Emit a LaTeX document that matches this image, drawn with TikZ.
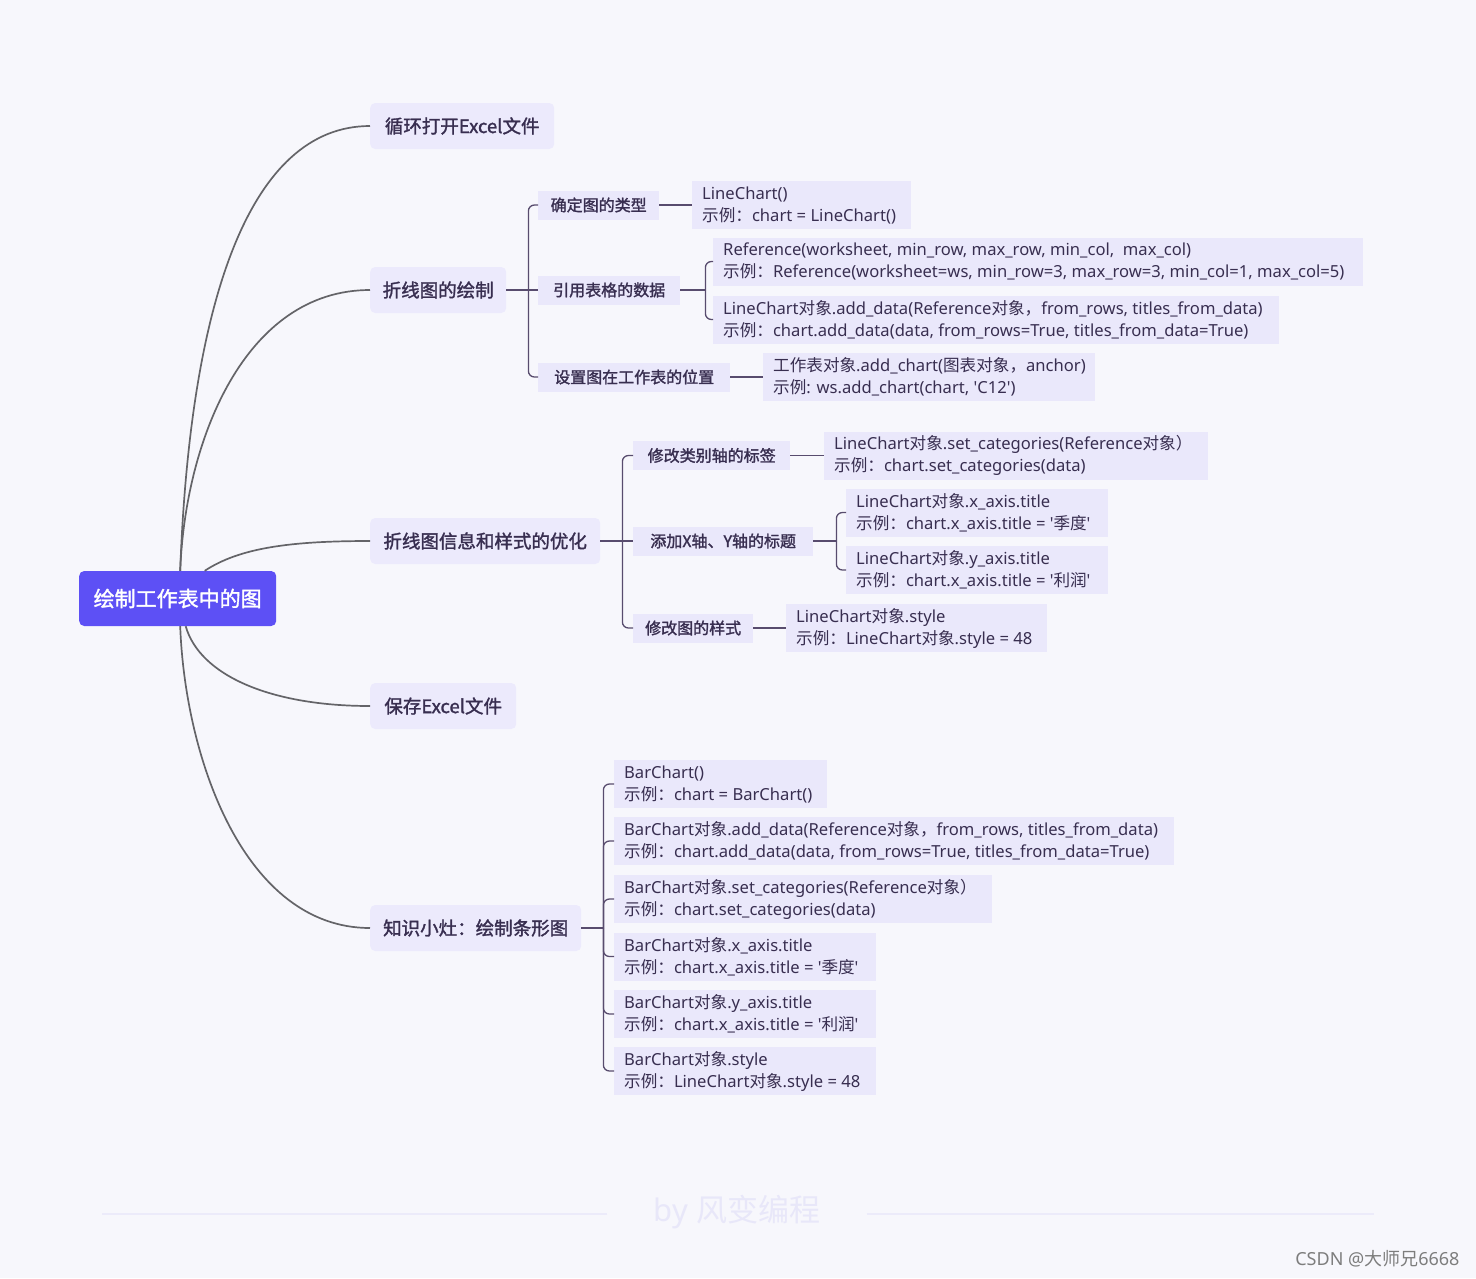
\documentclass[tikz,border=0pt]{standalone}
\usepackage{fontspec}
\setmainfont{Noto Sans}
\newfontfamily\zhfont{Noto Sans CJK SC}
\newfontfamily\zhmed[FakeBold=1.6]{Noto Sans CJK SC}
\newcommand{\zh}[1]{{\zhfont #1}}
\newcommand{\myq}{\textquotesingle}
\newcommand{\mytwo}[3]{\makebox[#1][l]{#2}\\\makebox[#1][l]{#3}}
\usetikzlibrary{calc}
\definecolor{bgc}{RGB}{247,247,252}
\definecolor{lonefill}{RGB}{236,234,252}
\definecolor{lfill}{RGB}{234,232,251}
\definecolor{rootfill}{RGB}{93,80,245}
\definecolor{txt}{RGB}{56,46,80}
\definecolor{curvec}{RGB}{100,100,104}
\definecolor{brc}{RGB}{88,76,110}
\definecolor{wmc}{RGB}{232,231,249}
\definecolor{wml}{RGB}{236,235,250}
\definecolor{csdn}{RGB}{125,125,125}
\begin{document}
\begin{tikzpicture}[x=1pt,y=-1pt,
  rootbox/.style={fill=rootfill, rounded corners=5pt, text=white, font=\zhmed\fontsize{21}{24}\selectfont, minimum height=55pt, minimum width=197pt, inner sep=0pt, anchor=west},
  lone/.style={fill=lonefill, rounded corners=5pt, text=txt, font=\zhmed\fontsize{18.5}{22}\selectfont, minimum height=46pt, inner sep=0pt, anchor=west},
  ltwo/.style={fill=lfill, text=txt, font=\zhmed\fontsize{16}{20}\selectfont, minimum height=29pt, inner sep=0pt, anchor=west},
  lthree/.style={fill=lfill, text=txt, font=\fontsize{16.6}{22}\selectfont, minimum height=48pt, inner xsep=10pt, inner ysep=0pt, align=left, anchor=west},
  curve/.style={draw=curvec, line width=1.7pt},
  brk/.style={draw=brc, line width=1.3pt, rounded corners=6pt},
  wm/.style={text=wmc, font=\fontsize{31}{34}\selectfont},
  wmline/.style={draw=wml, line width=1.5pt}
]
\fill[bgc] (0,0) rectangle (1476,1278);
\useasboundingbox (0,0) rectangle (1476,1278);

% root
\node[rootbox] (root) at (79,598.5) {绘制工作表中的图};

% level 1
\node[lone, minimum width=184pt] (b1) at (370,126) {循环打开Excel文件};
\node[lone, minimum width=136pt] (b2) at (370,290) {折线图的绘制};
\node[lone, minimum width=230pt] (b3) at (370,541) {折线图信息和样式的优化};
\node[lone, minimum width=146pt] (b4) at (370,706) {保存Excel文件};
\node[lone, minimum width=211pt] (b5) at (370,928) {知识小灶：绘制条形图};

% level 2
\node[ltwo, minimum width=121pt] (k1) at (538,205) {确定图的类型};
\node[ltwo, minimum width=142pt] (k2) at (538,290) {引用表格的数据};
\node[ltwo, minimum width=192pt] (k3) at (538,377) {设置图在工作表的位置};
\node[ltwo, minimum width=157pt] (m1) at (633,455.5) {修改类别轴的标签};
\node[ltwo, minimum width=180pt] (m2) at (633,541) {添加X轴、Y轴的标题};
\node[ltwo, minimum width=120pt] (m3) at (633,628) {修改图的样式};

% level 3
\node[lthree] (c1) at (692,205) {\mytwo{199pt}{LineChart()}{\zh{示例：}chart = LineChart()}};
\node[lthree] (r1) at (713,261.5) {\mytwo{630pt}{Reference(worksheet, min\_row, max\_row, min\_col,\ \ max\_col)}{\zh{示例：}Reference(worksheet=ws, min\_row=3, max\_row=3, min\_col=1, max\_col=5)}};
\node[lthree] (r2) at (713,319.5) {\mytwo{546pt}{LineChart\zh{对象}.add\_data(Reference\zh{对象，}from\_rows, titles\_from\_data)}{\zh{示例：}chart.add\_data(data, from\_rows=True, titles\_from\_data=True)}};
\node[lthree] (c3) at (763,377) {\mytwo{312pt}{\zh{工作表对象}.add\_chart(\zh{图表对象，}anchor)}{\zh{示例}: ws.add\_chart(chart, \myq C12\myq)}};
\node[lthree] (n1) at (824,455.5) {\mytwo{364pt}{LineChart\zh{对象}.set\_categories(Reference\zh{对象）}}{\zh{示例：}chart.set\_categories(data)}};
\node[lthree] (x1) at (846,512.5) {\mytwo{242pt}{LineChart\zh{对象}.x\_axis.title}{\zh{示例：}chart.x\_axis.title = \myq\zh{季度}\myq}};
\node[lthree] (x2) at (846,570) {\mytwo{242pt}{LineChart\zh{对象}.y\_axis.title}{\zh{示例：}chart.x\_axis.title = \myq\zh{利润}\myq}};
\node[lthree] (s1) at (786,628) {\mytwo{241pt}{LineChart\zh{对象}.style}{\zh{示例：}LineChart\zh{对象}.style = 48}};

\node[lthree] (z1) at (614,784) {\mytwo{193pt}{BarChart()}{\zh{示例：}chart = BarChart()}};
\node[lthree] (z2) at (614,841) {\mytwo{540pt}{BarChart\zh{对象}.add\_data(Reference\zh{对象，}from\_rows, titles\_from\_data)}{\zh{示例：}chart.add\_data(data, from\_rows=True, titles\_from\_data=True)}};
\node[lthree] (z3) at (614,899) {\mytwo{358pt}{BarChart\zh{对象}.set\_categories(Reference\zh{对象）}}{\zh{示例：}chart.set\_categories(data)}};
\node[lthree] (z4) at (614,956.5) {\mytwo{242pt}{BarChart\zh{对象}.x\_axis.title}{\zh{示例：}chart.x\_axis.title = \myq\zh{季度}\myq}};
\node[lthree] (z5) at (614,1014) {\mytwo{242pt}{BarChart\zh{对象}.y\_axis.title}{\zh{示例：}chart.x\_axis.title = \myq\zh{利润}\myq}};
\node[lthree] (z6) at (614,1071) {\mytwo{242pt}{BarChart\zh{对象}.style}{\zh{示例：}LineChart\zh{对象}.style = 48}};

% root curves
\draw[curve] ([xshift=2.5pt]root.north) .. controls +(10,-271) and +(-120,0) .. (b1.west);
\draw[curve] ([xshift=2.5pt]root.north) .. controls +(5,-131) and +(-125,0) .. (b2.west);
\draw[curve] ([xshift=27pt]root.north) .. controls +(35,-23) and +(-80,0) .. (b3.west);
\draw[curve] ([xshift=8pt]root.south) .. controls +(14,49) and +(-100,0) .. (b4.west);
\draw[curve] ([xshift=2.5pt]root.south) .. controls +(5,134) and +(-125,0) .. (b5.west);

% bracket: 折线图的绘制
\coordinate (J1) at ([xshift=22pt]b2.east);
\draw[brk] (b2.east) -- (k2.west);
\foreach \c in {k1,k3} \draw[brk] (J1) -- (J1 |- \c.west) -- (\c.west);
\draw[brk] (k1.east) -- (k1.east -| c1.west);
\draw[brk] (k3.east) -- (k3.east -| c3.west);
% bracket: 引用表格的数据
\coordinate (J2) at ([xshift=25pt]k2.east);
\draw[brk] (k2.east) -- (J2);
\foreach \c in {r1,r2} \draw[brk] (J2) -- (J2 |- \c.west) -- (\c.west);

% bracket: 优化
\coordinate (J3) at ([xshift=22pt]b3.east);
\draw[brk] (b3.east) -- (m2.west);
\foreach \c in {m1,m3} \draw[brk] (J3) -- (J3 |- \c.west) -- (\c.west);
\draw[brk] (m1.east) -- (m1.east -| n1.west);
\draw[brk] (m3.east) -- (m3.east -| s1.west);
\coordinate (J4) at ([xshift=23pt]m2.east);
\draw[brk] (m2.east) -- (J4);
\foreach \c in {x1,x2} \draw[brk] (J4) -- (J4 |- \c.west) -- (\c.west);

% bracket: 知识小灶
\coordinate (J5) at ([xshift=22pt]b5.east);
\draw[brk] (b5.east) -- (J5);
\foreach \c in {z1,z2,z3,z4,z5,z6} \draw[brk] (J5) -- (J5 |- \c.west) -- (\c.west);

% watermark
\node[wm] (wmk) at (737,1212) {by \zh{风变编程}};
\draw[wmline] ([xshift=-43pt,yshift=-2pt]wmk.west) -- ++(-505,0);
\draw[wmline] ([xshift=43pt,yshift=-2pt]wmk.east) -- ++(507,0);
\node[text=csdn, font=\fontsize{18}{20}\selectfont, anchor=east] (csdn) at (1463,1259) {CSDN @\zh{大师兄}6668};
\end{tikzpicture}
\end{document}
